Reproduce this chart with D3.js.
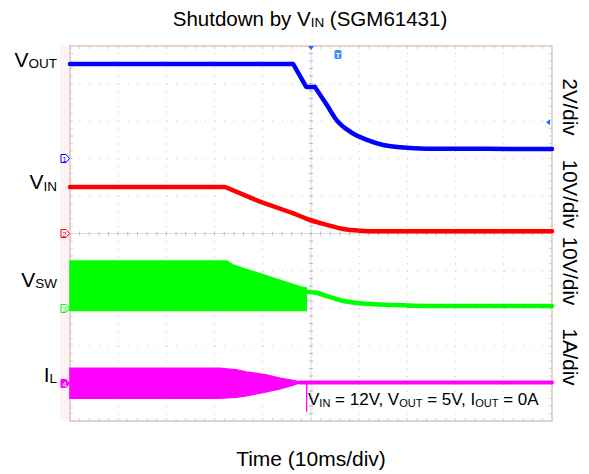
<!DOCTYPE html>
<html>
<head>
  <meta charset="utf-8">
  <script src="https://d3js.org/d3.v7.min.js"></script>
  <style>
    body { margin: 0; background: #fff; }
    text { font-family: "Liberation Sans", Arial, sans-serif; fill: #000; }
  </style>
</head>
<body>
<script>
  /*
    Scope readings: time in ms (trigger at 0), values in channel units
  */
  var voutTrace = [[-50, 5.04], [-3.7, 5.04], [-1.0, 3.82], [0.8, 3.82], [3.3, 2.85], [5.3, 2.05],
                   [8.1, 1.43], [11.6, 0.99], [15.0, 0.72], [18.5, 0.6], [24, 0.52], [50, 0.51]];
  var vinTrace = [[-50, 12.4], [-17.8, 12.4], [-10.6, 8.5], [-3.7, 5.4], [-0.2, 3.6], [3.3, 2.3],
                  [6.7, 1.2], [10.2, 0.75], [14, 0.6], [50, 0.6]];
  var vswTop = [[-50, 12.7], [-17.5, 12.7], [-16.2, 11.6], [-2.3, 5.8], [-1.0, 5.5]];
  var vswBottom = [[-50, -0.5], [-1.0, -0.5]];
  var vswTrace = [[-1.0, 4.5], [1.2, 4.2], [3.3, 3.3], [6.7, 2.0], [10.2, 1.4], [17, 0.93], [25, 0.7], [50, 0.67]];
  var ilTop = [[-50, 0.41], [-19, 0.41], [-15.5, 0.37], [-13.4, 0.31], [-9.2, 0.23], [-6.4, 0.14], [-3.7, 0.08], [-2.3, 0.04]];
  var ilBottom = [[-50, -0.39], [-19, -0.39], [-15.5, -0.37], [-13.4, -0.33], [-9.2, -0.22], [-6.4, -0.14], [-3.7, -0.04], [-2.3, 0.02]];
  var ilTrace = [[-2.3, 0.03], [50, 0.03]];
  var ilGlitch = [[-0.95, 0.03], [-0.9, -0.75], [-0.85, 0.03]];

  var scaleLabels = ["2V/div", "10V/div", "10V/div", "1A/div"];
  var noteParts = [["V", "IN", " = 12V, "], ["V", "OUT", " = 5V, "], ["I", "OUT", " = 0A"]];

  (function () {
  var width = 589, height = 474;
  var left = 70, right = 552, topY = 46, bottomY = 421;

  var svg = d3.select("body").append("svg")
      .attr("width", width).attr("height", height);

  var x = d3.scaleLinear().domain([-50, 50]).range([left, right]);
  // screen divisions: 10 vertical divs, center = 0
  var yDiv = d3.scaleLinear().domain([-5, 5]).range([bottomY, topY]);

  // channel settings: ground offset (div) and units per div
  var ch = {
    vout: { off: 2, per: 2, color: "#0000ff", num: "1" },
    vin: { off: 0, per: 10, color: "#ff0000", num: "2" },
    vsw: { off: -2, per: 10, color: "#00ff00", num: "3" },
    il: { off: -4, per: 1, color: "#ff00ff", num: "4" }
  };
  function yOf(c) { return function (v) { return yDiv(c.off + v / c.per); }; }

  // faint margin strip left of the screen
  svg.append("rect").attr("x", 60).attr("y", topY).attr("width", 10).attr("height", bottomY - topY)
     .attr("fill", "#fdf2f6");

  /*
    Graticule
  */
  var grid = svg.append("g");
  var stepX = (right - left) / 50, stepY = (bottomY - topY) / 50;
  d3.range(1, 10).forEach(function (i) {
    var gx = left + i * (right - left) / 10;
    grid.append("line").attr("x1", gx).attr("x2", gx).attr("y1", topY).attr("y2", bottomY)
        .attr("stroke", "#c4c4cc").attr("stroke-width", 1)
        .attr("stroke-dasharray", "1," + (stepY - 1));
  });
  d3.range(1, 10).forEach(function (i) {
    var gy = topY + i * (bottomY - topY) / 10;
    grid.append("line").attr("x1", left).attr("x2", right).attr("y1", gy).attr("y2", gy)
        .attr("stroke", "#c4c4cc").attr("stroke-width", 1)
        .attr("stroke-dasharray", "1," + (stepX - 1));
  });
  var cx = (left + right) / 2, cy = (topY + bottomY) / 2;
  grid.append("line").attr("x1", cx).attr("x2", cx).attr("y1", topY).attr("y2", bottomY)
      .attr("stroke", "#dcdce4").attr("stroke-width", 1);
  grid.append("line").attr("x1", left).attr("x2", right).attr("y1", cy).attr("y2", cy)
      .attr("stroke", "#dcdce4").attr("stroke-width", 1);
  d3.range(1, 50).forEach(function (i) {
    var tx = left + i * stepX, ty = topY + i * stepY;
    grid.append("line").attr("x1", tx).attr("x2", tx).attr("y1", cy - 2).attr("y2", cy + 2)
        .attr("stroke", "#b8b8c8");
    grid.append("line").attr("x1", cx - 2).attr("x2", cx + 2).attr("y1", ty).attr("y2", ty)
        .attr("stroke", "#b8b8c8");
    grid.append("line").attr("x1", tx).attr("x2", tx).attr("y1", topY).attr("y2", topY + 3)
        .attr("stroke", "#d8d0d0");
    grid.append("line").attr("x1", tx).attr("x2", tx).attr("y1", bottomY - 3).attr("y2", bottomY)
        .attr("stroke", "#d8d0d0");
    grid.append("line").attr("x1", left).attr("x2", left + 3).attr("y1", ty).attr("y2", ty)
        .attr("stroke", "#d8d0d0");
    grid.append("line").attr("x1", right - 3).attr("x2", right).attr("y1", ty).attr("y2", ty)
        .attr("stroke", "#d8d0d0");
  });
  svg.append("rect").attr("x", left).attr("y", topY).attr("width", right - left).attr("height", bottomY - topY)
     .attr("fill", "none").attr("stroke", "#dcc6b2").attr("stroke-width", 1.5);

  /*
    Traces
  */
  function drawBand(c, topPts, botPts) {
    var yc = yOf(c);
    var pts = topPts.map(function (d) { return [x(d[0]), yc(d[1])]; })
      .concat(botPts.slice().reverse().map(function (d) { return [x(d[0]), yc(d[1])]; }));
    svg.append("path").attr("d", "M" + pts.join("L") + "Z")
       .attr("fill", c.color).attr("stroke", c.color).attr("stroke-width", 1.5);
  }
  // straight segments up to index `bend`, smooth decay after it
  function drawLine(c, data, w, bend) {
    var yc = yOf(c);
    var parts = bend == null ? [[data, d3.curveLinear]]
      : [[data.slice(0, bend + 1), d3.curveLinear], [data.slice(bend), d3.curveMonotoneX]];
    parts.forEach(function (p) {
      var line = d3.line().curve(p[1])
        .x(function (d) { return x(d[0]); }).y(function (d) { return yc(d[1]); });
      svg.append("path").datum(p[0]).attr("d", line)
         .attr("fill", "none").attr("stroke", c.color).attr("stroke-width", w)
         .attr("stroke-linejoin", "round").attr("stroke-linecap", "round");
    });
  }

  drawLine(ch.vout, voutTrace, 4.5, 3);
  drawLine(ch.vin, vinTrace, 4.5, 3);
  drawBand(ch.vsw, vswTop, vswBottom);
  drawLine(ch.vsw, vswTrace, 4.5, 1);
  drawBand(ch.il, ilTop, ilBottom);
  drawLine(ch.il, ilTrace, 4);
  drawLine(ch.il, ilGlitch, 1);

  /*
    Channel ground markers
  */
  [ch.vout, ch.vin, ch.vsw, ch.il].forEach(function (c) {
    var my = yOf(c)(0);
    var filled = c.num === "4";
    svg.append("path")
       .attr("d", "M61," + (my - 4) + "h5l3.5,4l-3.5,4h-5z")
       .attr("fill", filled ? c.color : "#fff").attr("stroke", c.color).attr("stroke-width", 1);
    svg.append("text").attr("x", 64.5).attr("y", my + 3).attr("text-anchor", "middle")
       .style("font-size", "8px").style("fill", filled ? "#fff" : c.color).text(c.num);
  });

  // trigger position / trigger level markers
  svg.append("path").attr("d", "M" + (cx - 3) + "," + topY + "h6l-3,4z").attr("fill", "#1a6cff");
  svg.append("rect").attr("x", x(5.6) - 3.5).attr("y", 50).attr("width", 7).attr("height", 9)
     .attr("rx", 1.5).attr("fill", "#3a8cff");
  svg.append("text").attr("x", x(5.6)).attr("y", 58).attr("text-anchor", "middle")
     .style("font-size", "8px").style("font-weight", "bold").style("fill", "#fff").text("T");
  svg.append("path").attr("d", "M546," + yOf(ch.vout)(1.93) + "l4,-3v6z").attr("fill", "#1a6cff");

  /*
    Labels
  */
  svg.append("text").attr("x", 310).attr("y", 26).attr("text-anchor", "middle")
     .style("font-size", "20.5px")
     .call(function (t) {
       t.append("tspan").text("Shutdown by V");
       t.append("tspan").style("font-size", "13.5px").attr("dy", 1).text("IN");
       t.append("tspan").attr("dy", -1).text(" (SGM61431)");
     });

  var sideLabels = [["V", "OUT", ch.vout, 5.0], ["V", "IN", ch.vin, 12.4], ["V", "SW", ch.vsw, 6.3], ["I", "L", ch.il, 0.1]];
  sideLabels.forEach(function (s) {
    var t = svg.append("text").attr("x", 57).attr("y", yOf(s[2])(s[3]) + 2)
       .attr("text-anchor", "end").style("font-size", "21px");
    t.append("tspan").text(s[0]);
    t.append("tspan").attr("dy", 1.5).style("font-size", "13.5px").text(s[1]);
  });

  var scaleY = [107, 194, 271, 357];
  scaleLabels.forEach(function (s, i) {
    svg.append("text")
       .attr("transform", "translate(563," + scaleY[i] + ") rotate(90)")
       .attr("text-anchor", "middle").style("font-size", "20.5px").text(s);
  });

  var note = svg.append("text").attr("x", 308).attr("y", 405).style("font-size", "17px");
  noteParts.forEach(function (p) {
    note.append("tspan").text(p[0]);
    note.append("tspan").attr("dy", 2).style("font-size", "11px").text(p[1]);
    note.append("tspan").attr("dy", -2).text(p[2]);
  });

  svg.append("text").attr("x", 311).attr("y", 466).attr("text-anchor", "middle")
     .style("font-size", "21px").text("Time (10ms/div)");
  })();
</script>
</body>
</html>
